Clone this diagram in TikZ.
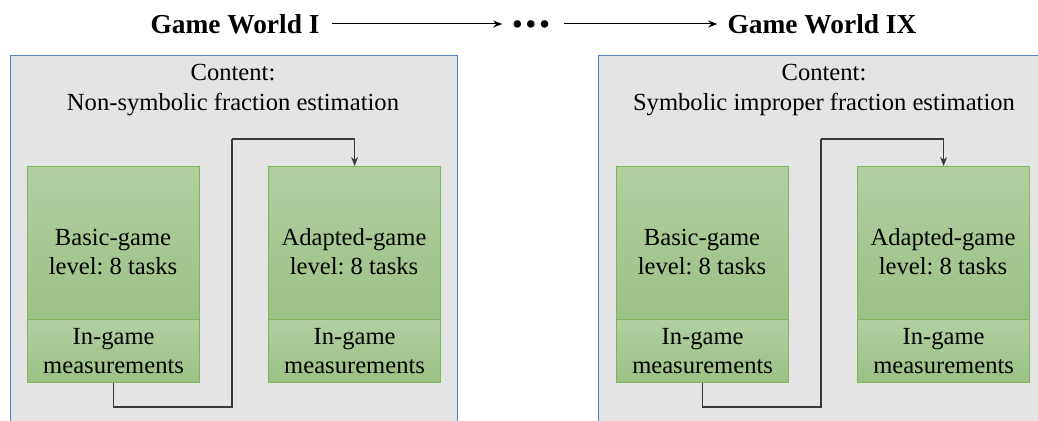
\documentclass[tikz,border=0pt]{standalone}
\usepackage{fontspec}
\setmainfont{Liberation Serif}
\newfontfamily\tnr{Liberation Serif}
\frenchspacing
\usetikzlibrary{arrows.meta}
\definecolor{framegray}{HTML}{E4E4E4}
\definecolor{frameblue}{HTML}{5B7FC4}
\definecolor{gtop}{HTML}{B0D0A1}
\definecolor{gbot}{HTML}{9AC185}
\definecolor{gborder}{HTML}{7DB65A}
\definecolor{conncol}{HTML}{3A3A3A}
\tikzset{
  frame/.style={draw=frameblue, line width=0.6pt, fill=framegray, rectangle, anchor=north west, minimum width=223.5pt, minimum height=190pt, inner sep=0pt},
  gbox/.style={draw=gborder, line width=0.6pt, top color=gtop, bottom color=gbot, rectangle, anchor=north west, minimum width=86pt, inner sep=0pt, align=center, font=\tnr\fontsize{12.3}{14.9}\selectfont},
  body/.style={align=center, inner sep=0pt, font=\tnr\fontsize{12.3}{14.6}\selectfont},
  title/.style={inner sep=0pt, font=\tnr\fontsize{13.7}{16}\selectfont\bfseries},
  tarrow/.style={draw=black, line width=0.5pt, -{Stealth[length=4.5pt,width=3.5pt]}},
  conn/.style={draw=conncol, line width=0.55pt, -{Stealth[length=4.5pt,width=3.5pt]}},
  connplain/.style={draw=conncol, line width=0.55pt}
}
\begin{document}
\begin{tikzpicture}[x=0.5pt, y=-0.5pt]
\useasboundingbox (0,0) rectangle (1038,421);
\clip (0,0) rectangle (1038,421);

% titles
\node[title] (g1) at (235,24) {Game World I};
\node[title] (dots) at (531,27) {•\hspace{2pt}•\hspace{2pt}•};
\node[title] (g9) at (822,24) {Game World IX};
\draw[tarrow, shorten <=6pt, shorten >=5pt] (g1.east) -- (g1.east -| dots.west);
\draw[tarrow, shorten <=7pt, shorten >=5pt] (g9.west -| dots.east) -- (g9.west);

% outer frames
\node[frame] (w1) at (10,55) {};
\node[frame] (w9) at (598,55) {};
\node[body] (c1) at (233,90) {Content:\\Non-symbolic fraction estimation};
\node[body] (c9) at (824,90) {Content:\\Symbolic improper fraction estimation};

% world I boxes
\node[gbox, minimum height=76.5pt] (b1) at (27,166) {};
\node[body] (b1t) at (113,252) {Basic-game\\level: 8 tasks};
\node[gbox, minimum height=31.5pt] (m1) at (27,319) {In-game\\measurements};
\node[gbox, minimum height=76.5pt] (a1) at (268,166) {};
\node[body] (a1t) at (354,252) {Adapted-game\\level: 8 tasks};
\node[gbox, minimum height=31.5pt] (n1) at (268,319) {In-game\\measurements};
\coordinate (k1) at (232,407);
\coordinate (k2) at (232,139);
\draw[connplain] (m1.south) |- (k1) -- (k2);
\draw[conn] (k2) -| (a1.north);

% world IX boxes
\node[gbox, minimum height=76.5pt] (b9) at (616,166) {};
\node[body] (b9t) at (702,252) {Basic-game\\level: 8 tasks};
\node[gbox, minimum height=31.5pt] (m9) at (616,319) {In-game\\measurements};
\node[gbox, minimum height=76.5pt] (a9) at (857,166) {};
\node[body] (a9t) at (943,252) {Adapted-game\\level: 8 tasks};
\node[gbox, minimum height=31.5pt] (n9) at (857,319) {In-game\\measurements};
\coordinate (k3) at (821,407);
\coordinate (k4) at (821,139);
\draw[connplain] (m9.south) |- (k3) -- (k4);
\draw[conn] (k4) -| (a9.north);
\end{tikzpicture}
\end{document}
